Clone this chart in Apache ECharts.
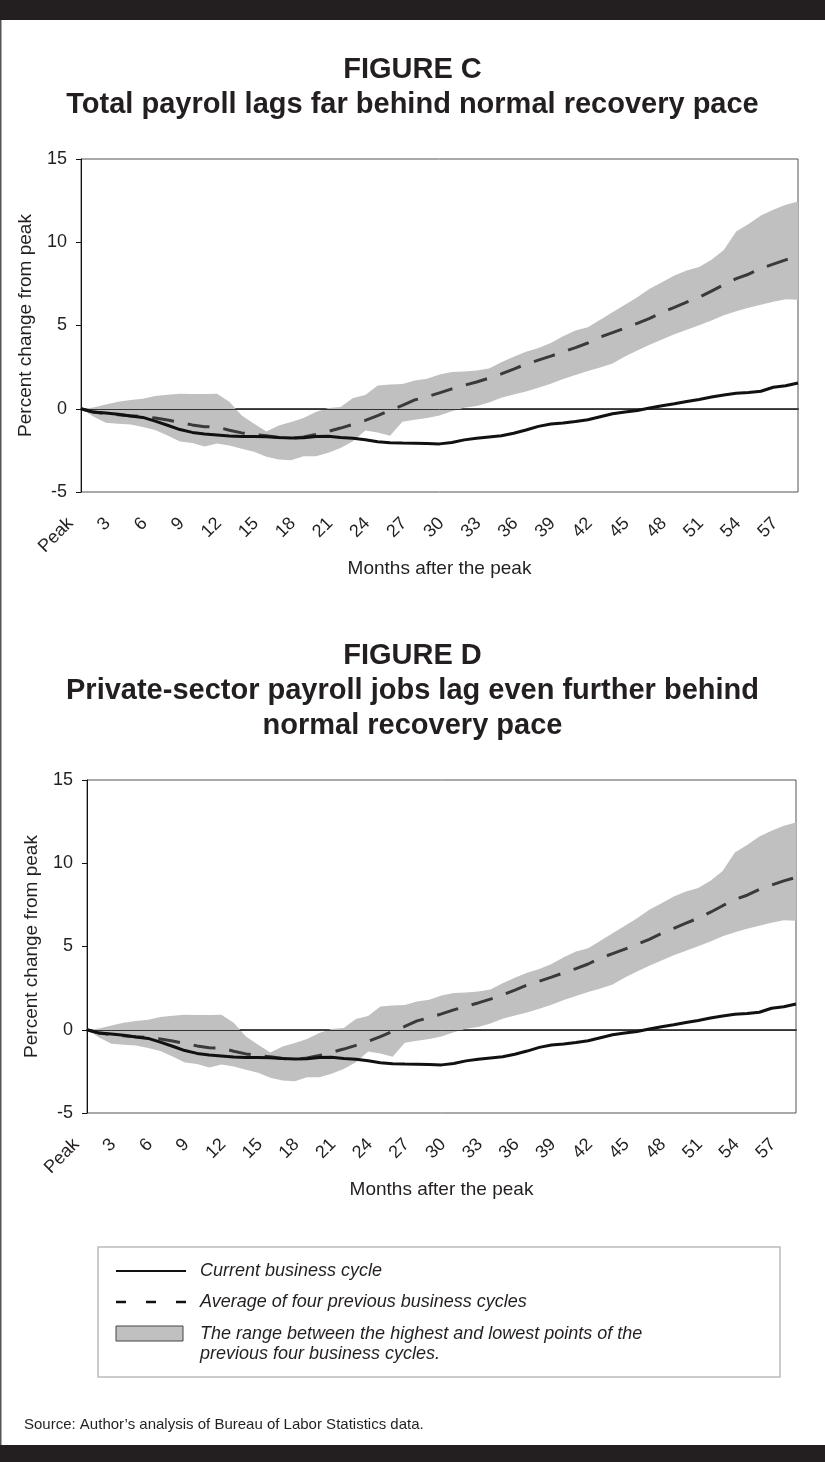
<!DOCTYPE html>
<html>
<head>
<meta charset="utf-8">
<script src="https://cdn.jsdelivr.net/npm/echarts@6/dist/echarts.min.js"></script>
<style>
  html, body { margin: 0; padding: 0; background: #fff; }
  #chart { width: 825px; height: 1462px; }
</style>
</head>
<body>
<div id="chart"></div>
<script>
// Months after the business-cycle peak
const months = ['Peak','1','2','3','4','5','6','7','8','9','10','11','12','13','14','15','16','17','18','19',
  '20','21','22','23','24','25','26','27','28','29','30','31','32','33','34','35','36','37','38','39',
  '40','41','42','43','44','45','46','47','48','49','50','51','52','53','54','55','56','57','58'];

// Percent change from peak, current business cycle
const currentCycle = [0,-0.2,-0.25,-0.33,-0.43,-0.52,-0.74,-0.99,-1.25,-1.42,-1.51,-1.57,-1.63,-1.66,-1.66,
  -1.68,-1.73,-1.76,-1.74,-1.67,-1.65,-1.72,-1.77,-1.86,-1.98,-2.04,-2.06,-2.07,-2.09,-2.11,
  -2.03,-1.87,-1.77,-1.69,-1.62,-1.47,-1.28,-1.06,-0.92,-0.85,-0.77,-0.66,-0.48,-0.3,-0.2,
  -0.1,0.04,0.18,0.3,0.44,0.56,0.7,0.83,0.93,0.98,1.05,1.29,1.38,1.55];

// Average of the four previous business cycles
const avgPrevious = [0,-0.2,-0.3,-0.36,-0.42,-0.46,-0.56,-0.67,-0.82,-0.97,-1.08,-1.1,-1.29,-1.45,-1.55,
  -1.62,-1.73,-1.78,-1.7,-1.55,-1.36,-1.16,-0.94,-0.7,-0.41,-0.1,0.2,0.53,0.73,0.95,
  1.19,1.41,1.61,1.84,2.09,2.38,2.68,2.92,3.16,3.42,3.67,3.95,4.3,4.57,4.84,
  5.13,5.43,5.78,6.09,6.4,6.7,7.06,7.45,7.82,8.08,8.43,8.69,8.94,9.15];

// Highest point among the four previous cycles
const rangeHigh = [0,0.08,0.25,0.42,0.52,0.6,0.76,0.84,0.9,0.89,0.88,0.9,0.42,-0.4,-0.9,
  -1.36,-1.0,-0.8,-0.55,-0.2,0.05,0.1,0.64,0.82,1.4,1.46,1.48,1.7,1.8,2.05,
  2.2,2.24,2.3,2.42,2.8,3.12,3.42,3.65,3.95,4.35,4.7,4.9,5.35,5.8,6.25,
  6.7,7.2,7.6,8.0,8.3,8.52,8.95,9.54,10.64,11.1,11.6,11.95,12.25,12.44];

// Lowest point among the four previous cycles
const rangeLow = [0,-0.46,-0.84,-0.9,-0.95,-1.1,-1.28,-1.6,-1.96,-2.05,-2.26,-2.08,-2.2,-2.4,-2.58,
  -2.88,-3.05,-3.1,-2.85,-2.85,-2.65,-2.35,-1.95,-1.3,-1.42,-1.62,-0.78,-0.66,-0.56,-0.4,
  -0.15,0.06,0.16,0.38,0.66,0.85,1.04,1.26,1.5,1.78,2.02,2.26,2.47,2.72,3.14,
  3.5,3.85,4.16,4.48,4.75,5.02,5.3,5.62,5.85,6.06,6.25,6.42,6.57,6.54];

const yTicks = { min: -5, max: 15, step: 5 };

const INK = '#231f20';
const FONT = '"Liberation Sans", Arial, Helvetica, sans-serif';
const BAND = '#c0c0c0';

const chart = echarts.init(document.getElementById('chart'), null, { renderer: 'canvas' });

// band thickness stacked on top of the lower bound
const rangeSpan = rangeHigh.map((v, i) => +(v - rangeLow[i]).toFixed(3));

function xAxisFor(gridIndex) {
  return {
    gridIndex,
    type: 'category',
    data: months,
    boundaryGap: false,
    name: 'Months after the peak',
    nameLocation: 'middle',
    nameGap: 60,
    nameTextStyle: { fontSize: 19, color: INK, fontFamily: FONT },
    axisLine: { show: true, lineStyle: { color: '#4a4a4a', width: 2 } },
    axisTick: { show: false },
    axisLabel: {
      interval: 2,
      rotate: 45,
      margin: 18,
      padding: [0, 15, 0, 0],
      fontSize: 18,
      color: INK,
      fontFamily: FONT
    },
    splitLine: { show: false }
  };
}

function yAxisFor(gridIndex) {
  return {
    gridIndex,
    type: 'value',
    min: yTicks.min,
    max: yTicks.max,
    interval: yTicks.step,
    name: 'Percent change from peak',
    nameLocation: 'middle',
    nameGap: 46,
    nameTextStyle: { fontSize: 19, color: INK, fontFamily: FONT },
    axisLine: { show: true, lineStyle: { color: '#111', width: 1 } },
    axisTick: { show: true, length: 5, lineStyle: { color: '#111', width: 1 } },
    axisLabel: { margin: 14, fontSize: 18, color: INK, fontFamily: FONT },
    splitLine: { show: false }
  };
}

function seriesFor(idx) {
  const stackName = 'range' + idx;
  return [
    {
      name: 'low', type: 'line', xAxisIndex: idx, yAxisIndex: idx,
      data: rangeLow, stack: stackName, stackStrategy: 'all',
      symbol: 'none', silent: true, lineStyle: { opacity: 0 }, z: 1
    },
    {
      name: 'range', type: 'line', xAxisIndex: idx, yAxisIndex: idx,
      data: rangeSpan, stack: stackName, stackStrategy: 'all',
      symbol: 'none', silent: true, lineStyle: { opacity: 0 },
      areaStyle: { color: BAND, opacity: 1 }, z: 1,
      markLine: {
        silent: true, symbol: ['none', 'none'], label: { show: false },
        lineStyle: { color: '#333', width: 1, type: 'solid' },
        data: [{ yAxis: 0 }], z: 2
      }
    },
    {
      name: 'average', type: 'line', xAxisIndex: idx, yAxisIndex: idx,
      data: avgPrevious, symbol: 'none', silent: true, z: 3,
      lineStyle: { color: '#3a3a3a', width: 3, type: [22, 14], cap: 'butt' }
    },
    {
      name: 'current', type: 'line', xAxisIndex: idx, yAxisIndex: idx,
      data: currentCycle, symbol: 'none', silent: true, z: 4,
      lineStyle: { color: '#111', width: 3 }
    }
  ];
}

const titleStyle = { fontSize: 29, fontWeight: 'bold', lineHeight: 35, color: INK, fontFamily: FONT };

const legendTextStyle = { fontSize: 18, fontStyle: 'italic', fill: INK, fontFamily: FONT, verticalAlign: 'middle' };

chart.setOption({
  backgroundColor: '#fff',
  animation: false,
  title: [
    { text: 'FIGURE C\nTotal payroll lags far behind normal recovery pace',
      left: 'center', top: 47.5, textStyle: titleStyle },
    { text: 'FIGURE D\nPrivate-sector payroll jobs lag even further behind\nnormal recovery pace',
      left: 'center', top: 633.5, textStyle: titleStyle }
  ],
  grid: [
    { left: 81, top: 159, width: 717, height: 333, show: true, borderColor: '#555', borderWidth: 1, containLabel: false },
    { left: 87, top: 780, width: 709, height: 333, show: true, borderColor: '#555', borderWidth: 1, containLabel: false }
  ],
  xAxis: [xAxisFor(0), xAxisFor(1)],
  yAxis: [yAxisFor(0), yAxisFor(1)],
  series: [...seriesFor(0), ...seriesFor(1)],
  graphic: [
    // page frame
    { type: 'rect', shape: { x: 0, y: 0, width: 825, height: 20 }, style: { fill: INK }, silent: true },
    { type: 'rect', shape: { x: 0, y: 1445, width: 825, height: 17 }, style: { fill: INK }, silent: true },
    { type: 'rect', shape: { x: 0, y: 20, width: 1.5, height: 1425 }, style: { fill: '#555' }, silent: true },
    // legend box
    { type: 'rect', shape: { x: 98, y: 1247, width: 682, height: 130 },
      style: { fill: 'none', stroke: '#bbb', lineWidth: 1.5 }, silent: true },
    { type: 'line', shape: { x1: 116, y1: 1271, x2: 186, y2: 1271 },
      style: { stroke: '#111', lineWidth: 2 }, silent: true },
    { type: 'text', x: 200, y: 1271, style: Object.assign({ text: 'Current business cycle' }, legendTextStyle), silent: true },
    { type: 'line', shape: { x1: 116, y1: 1302, x2: 186, y2: 1302 },
      style: { stroke: '#111', lineWidth: 2.5, lineDash: [10, 20] }, silent: true },
    { type: 'text', x: 200, y: 1302, style: Object.assign({ text: 'Average of four previous business cycles' }, legendTextStyle), silent: true },
    { type: 'rect', shape: { x: 116, y: 1326, width: 67, height: 15 },
      style: { fill: BAND, stroke: '#444', lineWidth: 1 }, silent: true },
    { type: 'text', x: 200, y: 1334, style: Object.assign({ text: 'The range between the highest and lowest points of the' }, legendTextStyle), silent: true },
    { type: 'text', x: 200, y: 1354, style: Object.assign({ text: 'previous four business cycles.' }, legendTextStyle), silent: true },
    // source note
    { type: 'text', x: 24, y: 1425,
      style: { text: 'Source: Author\u2019s analysis of Bureau of Labor Statistics data.', fontSize: 15, fill: INK, fontFamily: FONT, verticalAlign: 'middle' },
      silent: true }
  ]
});
</script>
</body>
</html>
